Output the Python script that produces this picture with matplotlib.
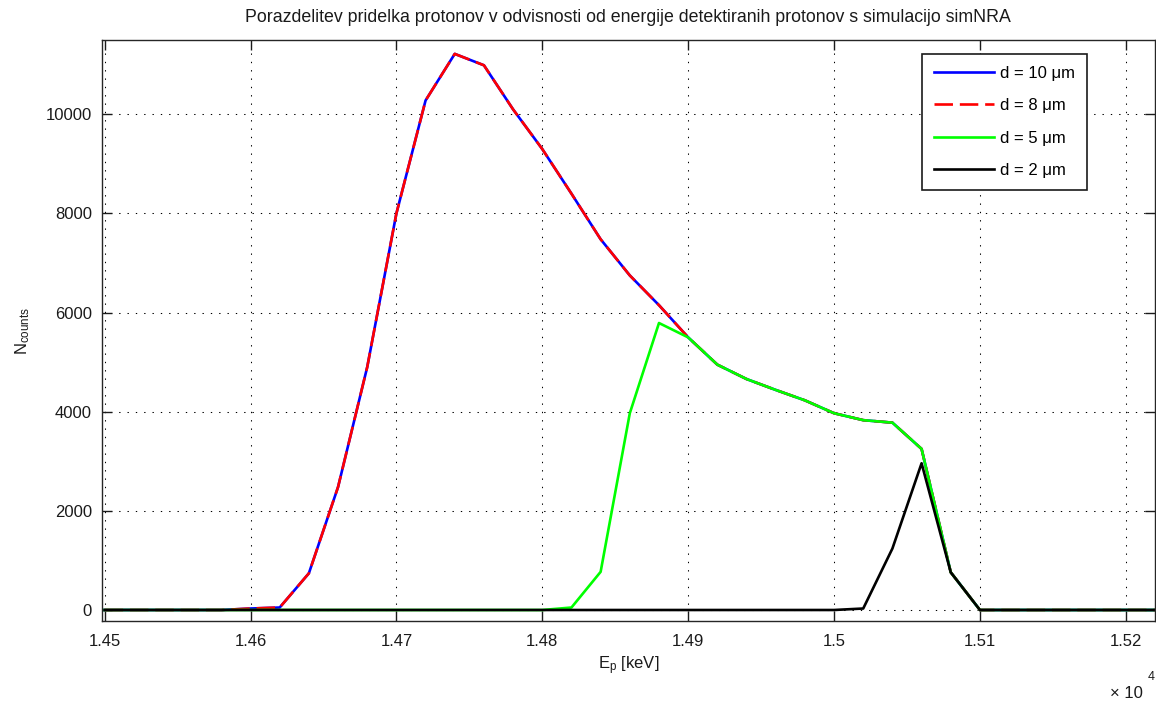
import matplotlib
matplotlib.use("Agg")
import matplotlib.pyplot as plt

plt.rcParams['font.family'] = ['Liberation Sans', 'DejaVu Sans']
plt.rcParams['mathtext.fontset'] = 'custom'
plt.rcParams['mathtext.rm'] = 'Liberation Sans'
plt.rcParams['mathtext.it'] = 'Liberation Sans:italic'
plt.rcParams['mathtext.bf'] = 'Liberation Sans:bold'

# ---------------- data ----------------
energy = [14500, 14520, 14540, 14560, 14580, 14600, 14620, 14640, 14660, 14680,
          14700, 14720, 14740, 14760, 14780, 14800, 14820, 14840, 14860, 14880,
          14900, 14920, 14940, 14960, 14980, 15000, 15020, 15040, 15060, 15080,
          15100, 15120, 15140, 15160, 15180, 15200, 15220]

counts_d10 = [0, 0, 0, 0, 0, 30, 50, 740, 2480, 4900,
              8000, 10280, 11220, 10990, 10100, 9300, 8400, 7480, 6750, 6150,
              5500, 4950, 4660, 4440, 4230, 3970, 3830, 3780, 3250, 760,
              0, 0, 0, 0, 0, 0, 0]
counts_d8 = [0, 0, 0, 0, 0, 30, 50, 740, 2480, 4900,
             8000, 10280, 11220, 10990, 10100, 9300, 8400, 7480, 6750, 6150,
             5500, 4950, 4660, 4440, 4230, 3970, 3830, 3780, 3250, 760,
             0, 0, 0, 0, 0, 0, 0]
counts_d5 = [0, 0, 0, 0, 0, 0, 0, 0, 0, 0,
             0, 0, 0, 0, 0, 0, 50, 770, 3970, 5790,
             5500, 4950, 4660, 4440, 4230, 3970, 3830, 3780, 3250, 760,
             0, 0, 0, 0, 0, 0, 0]
counts_d2 = [0, 0, 0, 0, 0, 0, 0, 0, 0, 0,
             0, 0, 0, 0, 0, 0, 0, 0, 0, 0,
             0, 0, 0, 0, 0, 0, 30, 1240, 2960, 760,
             0, 0, 0, 0, 0, 0, 0]

labels = ['d = 10 μm', 'd = 8 μm', 'd = 5 μm', 'd = 2 μm']

xticks = [14500, 14600, 14700, 14800, 14900, 15000, 15100, 15200]
xticklabels = ['1.45', '1.46', '1.47', '1.48', '1.49', '1.5', '1.51', '1.52']
yticks = [0, 2000, 4000, 6000, 8000, 10000]
yticklabels = ['0', '2000', '4000', '6000', '8000', '10000']

title = 'Porazdelitev pridelka protonov v odvisnosti od energije detektiranih protonov s simulacijo simNRA'

# ---------------- figure ----------------
W, H = 1156, 702
fig = plt.figure(figsize=(W / 100, H / 100), dpi=100)
ax = fig.add_axes([101.7 / W, 81 / H, (1155 - 101.7) / W, 581 / H])

lw = 1.9
ax.plot(energy, counts_d10, color='#0000ff', lw=lw, label=labels[0])
ax.plot(energy, counts_d8, color='#ff0000', lw=lw, ls=(0, (7.0, 2.6)), label=labels[1])
ax.plot(energy, counts_d5, color='#00ff00', lw=lw, label=labels[2])
ax.plot(energy, counts_d2, color='#000000', lw=lw, label=labels[3])

ax.set_xlim(14498, 15220)
ax.set_ylim(-222, 11500)
ax.set_xticks(xticks)
ax.set_xticklabels(xticklabels)
ax.set_yticks(yticks)
ax.set_yticklabels(yticklabels)

ax.grid(True, color='black', lw=0.75, ls=(0, (1.3, 6.7)))
ax.tick_params(direction='in', length=7, width=1.0, top=True, right=True,
               labelsize=12, colors='#1a1a1a')
ax.tick_params(axis='y', pad=7)
ax.tick_params(axis='x', pad=9)
for s in ax.spines.values():
    s.set_linewidth(1.0)
    s.set_color('#262626')

ax.set_xlabel(r'E$_\mathrm{p}$ [keV]', fontsize=12, labelpad=4, color='#1a1a1a')
ax.set_ylabel(r'N$_\mathrm{counts}$', fontsize=12, labelpad=10, color='#1a1a1a')
fig.text(0.5 * (243 + 1012) / W, 1 - 18 / H, title, ha='center', va='center',
         fontsize=12.8, color='#1a1a1a')
fig.text(1110 / W, 1 - 693 / H, '× 10', ha='left', va='center', fontsize=12,
         color='#1a1a1a')
fig.text(1148 / W, 1 - 677 / H, '4', ha='left', va='center', fontsize=9,
         color='#1a1a1a')

leg = ax.legend(loc='upper right', bbox_to_anchor=(0.9355, 0.976), borderaxespad=0,
                fontsize=12, fancybox=False, framealpha=1, edgecolor='#1a1a1a',
                borderpad=0.7, labelspacing=1.05, handlelength=3.6,
                handletextpad=0.4)
leg.get_frame().set_linewidth(1.2)

fig.savefig('out.png', dpi=100)
